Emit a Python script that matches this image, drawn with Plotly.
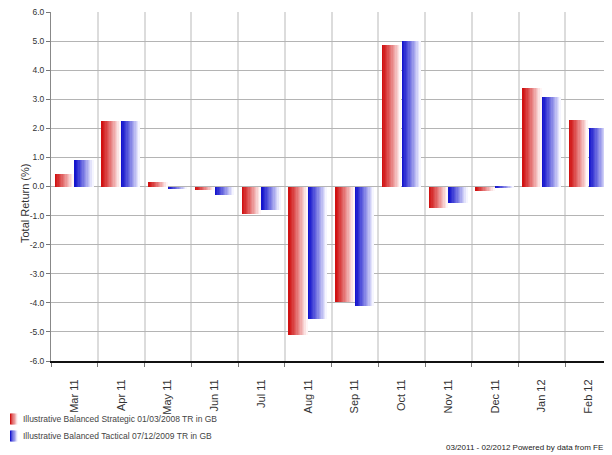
import plotly.graph_objects as go

months = ["Mar 11", "Apr 11", "May 11", "Jun 11", "Jul 11", "Aug 11",
          "Sep 11", "Oct 11", "Nov 11", "Dec 11", "Jan 12", "Feb 12"]
strategic = [0.43, 2.25, 0.17, -0.12, -0.95, -5.10, -3.97, 4.85, -0.75, -0.15, 3.40, 2.30]
tactical = [0.90, 2.25, -0.10, -0.30, -0.80, -4.55, -4.10, 5.00, -0.57, -0.02, 3.08, 2.02]
series_names = ["Illustrative Balanced Strategic 01/03/2008 TR in GB",
                "Illustrative Balanced Tactical 07/12/2009 TR in GB"]
y_ticks = [6, 5, 4, 3, 2, 1, 0, -1, -2, -3, -4, -5, -6]
y_ticktext = ["%.1f" % v for v in y_ticks]
footer = "03/2011 - 02/2012 Powered by data from FE"

# page has an 8px body margin, so the figure is offset by 8px
OFF = 8
W, H = 612 - OFF, 455 - OFF
L, R, T, B = 51 - OFF, 0, 12 - OFF, 94
PW, PH = W - L - R, H - T - B

FONT = "Liberation Sans, Arial, sans-serif"


def px_x(p):
    # p given in reference (window) pixels
    return (p - OFF - L) / PW


def px_y(p):
    return (H - B - (p - OFF)) / PH


fig = go.Figure()

N = 14
bar_w = 0.40
reds = ((208, 18, 18), (255, 245, 245))
blues = ((20, 20, 205), (245, 245, 255))
specs = [
    (strategic, series_names[0], reds, -0.41),
    (tactical, series_names[1], blues, 0.01),
]


def grad(pal, t):
    a, b = pal
    return "rgb(%d,%d,%d)" % tuple(round(a[k] + (b[k] - a[k]) * t) for k in range(3))


for vals, name, pal, off in specs:
    for i in range(N):
        t = (i / (N - 1)) ** 1.1
        fig.add_trace(go.Bar(
            x=months, y=vals, name=name,
            offset=off + i * bar_w / N, width=bar_w / N * 1.08,
            marker=dict(color=grad(pal, t), line=dict(width=0)),
            showlegend=False, hoverinfo="skip",
        ))

fig.add_shape(type="line", xref="paper", yref="y", x0=0, x1=1, y0=0, y1=0,
              line=dict(color="#dd1111", width=1, dash="dash"), layer="below")

annotations = [
    dict(text="Total Return (%)", xref="paper", yref="paper",
         x=px_x(17), y=px_y(204), textangle=-90, showarrow=False,
         font=dict(family=FONT, size=11, color="#333333")),
    dict(text=footer, xref="paper", yref="paper",
         x=px_x(605), y=px_y(447), xanchor="right", yanchor="middle", showarrow=False,
         font=dict(family=FONT, size=8, color="#222222")),
]

# manual legend
for k, (vals, name, pal, off) in enumerate(specs):
    yc = 419 + 17 * k
    ns = 6
    x0, x1 = 10, 17
    for i in range(ns):
        t = (i / (ns - 1)) ** 1.1 * 0.9
        fig.add_shape(type="rect", xref="paper", yref="paper",
                      x0=px_x(x0 + (x1 - x0) * i / ns), x1=px_x(x0 + (x1 - x0) * (i + 1) / ns + 0.3),
                      y0=px_y(yc - 5.5), y1=px_y(yc + 5.5),
                      fillcolor=grad(pal, t), line=dict(width=0))
    annotations.append(dict(text=name, xref="paper", yref="paper",
                            x=px_x(21), y=px_y(yc), xanchor="left", yanchor="middle",
                            showarrow=False,
                            font=dict(family=FONT, size=8.5, color="#444444")))

fig.update_layout(
    width=W, height=H,
    margin=dict(l=L, r=R, t=T, b=B, pad=0, autoexpand=False),
    paper_bgcolor="white", plot_bgcolor="white",
    barmode="overlay", bargap=0,
    font=dict(family=FONT, size=10, color="#333333"),
    showlegend=False,
    xaxis=dict(
        type="category", tickson="boundaries", showgrid=True,
        gridcolor="#dcdcdc", gridwidth=2,
        showline=True, linecolor="#111111", linewidth=2,
        ticks="outside", ticklen=4, tickcolor="#777777",
        tickangle=-90, ticklabelstandoff=12,
        tickfont=dict(family=FONT, size=11, color="#333333"),
        range=[-0.5, 11.5], automargin=False,
    ),
    yaxis=dict(
        range=[-6, 6], tickvals=y_ticks, ticktext=y_ticktext,
        showgrid=True, gridcolor="#b4b4b4", gridwidth=1,
        zeroline=False,
        showline=True, linecolor="#888888", linewidth=1,
        ticks="outside", ticklen=4, tickcolor="#777777",
        tickfont=dict(family=FONT, size=8.5, color="#333333"),
        ticklabeloverflow="allow",
        automargin=False,
    ),
    annotations=annotations,
)

fig.write_html("out.html")
